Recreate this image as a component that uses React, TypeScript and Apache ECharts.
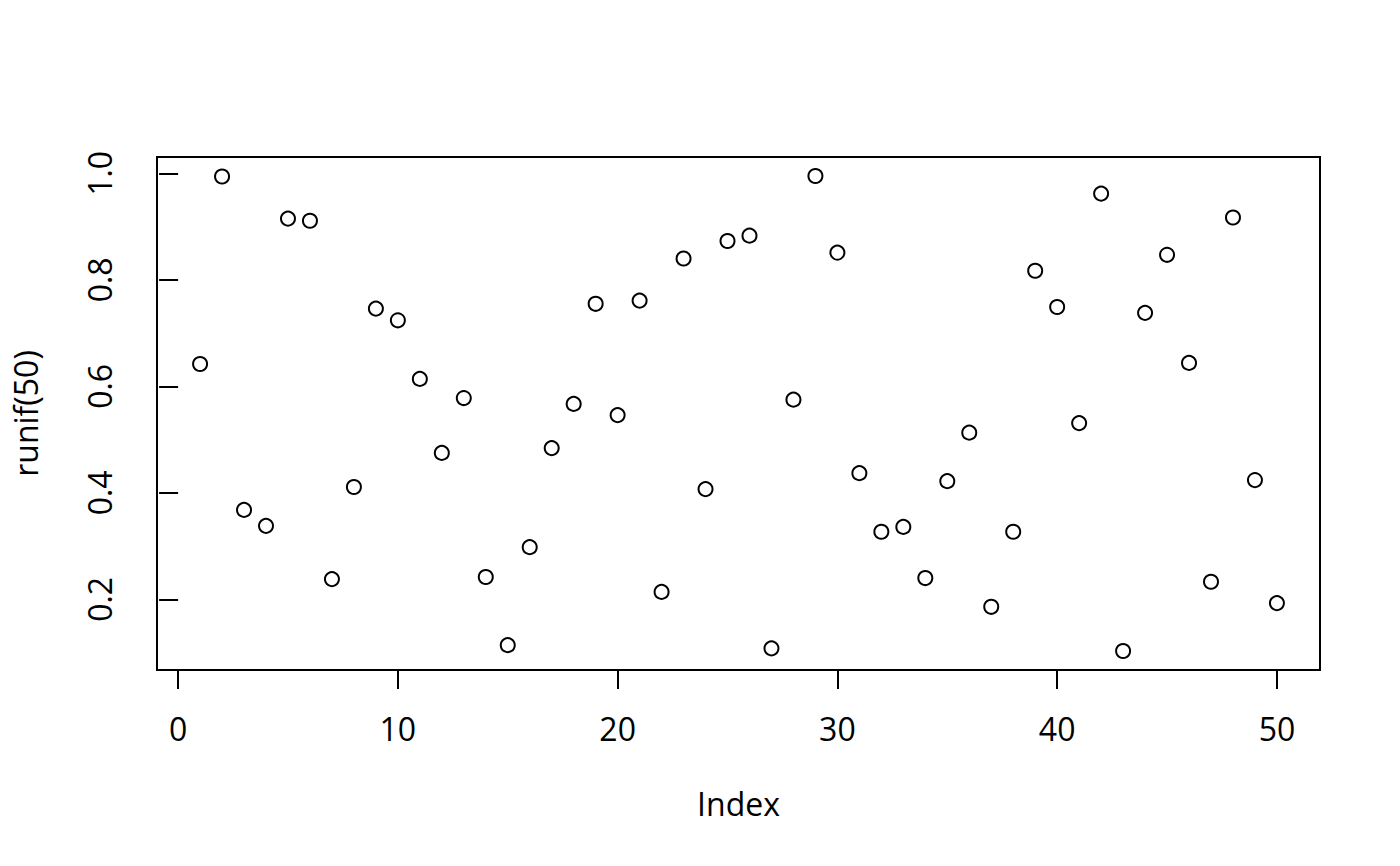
import React, { useEffect, useRef } from "react";
import * as echarts from "echarts";

const indexValues: number[] = Array.from({ length: 50 }, (_, i) => i + 1);
const runifValues: number[] = [
  0.642, 0.994, 0.368, 0.338, 0.915, 0.911, 0.238, 0.411, 0.746, 0.724,
  0.614, 0.475, 0.578, 0.242, 0.114, 0.298, 0.484, 0.567, 0.755, 0.546,
  0.761, 0.214, 0.840, 0.407, 0.873, 0.883, 0.108, 0.575, 0.995, 0.851,
  0.437, 0.327, 0.336, 0.240, 0.422, 0.513, 0.186, 0.327, 0.817, 0.749,
  0.531, 0.962, 0.103, 0.738, 0.847, 0.644, 0.233, 0.917, 0.424, 0.193,
];
const xTicks: number[] = [0, 10, 20, 30, 40, 50];
const yTicks: number[] = [0.2, 0.4, 0.6, 0.8, 1.0];

const FONT = "Open Sans";
const FS = 32;

export default function App() {
  const ref = useRef<HTMLDivElement>(null);
  useEffect(() => {
    if (!ref.current) return;
    const chart = echarts.init(ref.current, null, { renderer: "svg" });
    const xmin = Math.min(...indexValues), xmax = Math.max(...indexValues);
    const ymin = Math.min(...runifValues), ymax = Math.max(...runifValues);
    const xr = xmax - xmin, yr = ymax - ymin;
    const axisCommon = {
      axisLine: { show: false },
      splitLine: { show: false },
      axisTick: { show: true, length: 19, lineStyle: { color: "#000", width: 2 } },
    };
    chart.setOption({
      animation: false,
      backgroundColor: "#fff",
      grid: {
        left: 157, top: 157, right: 80, bottom: 196,
        show: true, borderColor: "#000", borderWidth: 2, backgroundColor: "transparent",
      },
      xAxis: {
        type: "value",
        min: xmin - 0.04 * xr,
        max: xmax + 0.04 * xr,
        ...axisCommon,
        axisTick: { ...axisCommon.axisTick, customValues: xTicks },
        axisLabel: {
          customValues: xTicks, margin: 42, color: "#000",
          fontFamily: FONT, fontSize: FS,
        },
        name: "Index", nameLocation: "middle", nameGap: 117,
        nameTextStyle: { color: "#000", fontFamily: FONT, fontSize: FS },
      },
      yAxis: {
        type: "value",
        min: ymin - 0.04 * yr,
        max: ymax + 0.04 * yr,
        ...axisCommon,
        axisTick: { ...axisCommon.axisTick, customValues: yTicks },
        axisLabel: {
          customValues: yTicks, margin: 42, rotate: 90, color: "#000",
          fontFamily: FONT, fontSize: FS,
          formatter: (v: number) => v.toFixed(1),
        },
        name: "runif(50)", nameLocation: "middle", nameGap: 116, nameRotate: 90,
        nameTextStyle: { color: "#000", fontFamily: FONT, fontSize: FS },
      },
      series: [
        {
          type: "scatter",
          data: indexValues.map((x, i) => [x, runifValues[i]]),
          symbol: "circle",
          symbolSize: 14,
          itemStyle: { color: "rgba(0,0,0,0)", borderColor: "#000", borderWidth: 2, opacity: 1 },
          emphasis: { disabled: true },
        },
      ],
    });
    return () => chart.dispose();
  }, []);
  return (
    <div
      ref={ref}
      style={{ position: "absolute", left: 0, top: 0, width: 1400, height: 866 }}
    />
  );
}
